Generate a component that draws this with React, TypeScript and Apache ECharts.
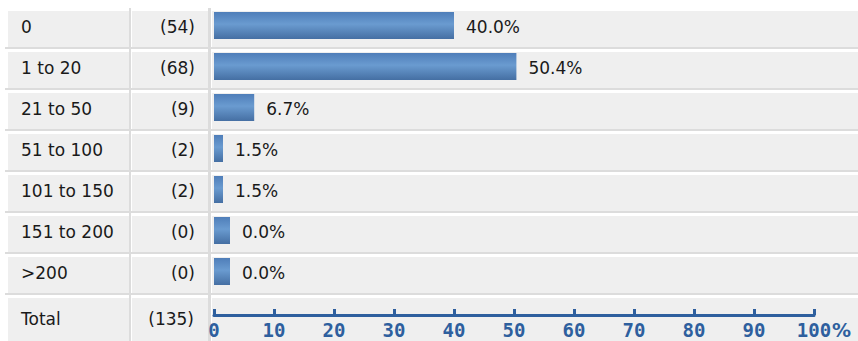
import React, { useEffect, useRef } from "react";
import * as echarts from "echarts";

const categories = ["0", "1 to 20", "21 to 50", "51 to 100", "101 to 150", "151 to 200", ">200"];
const counts = [54, 68, 9, 2, 2, 0, 0];
const percents = [40.0, 50.4, 6.7, 1.5, 1.5, 0.0, 0.0];
const totalLabel = "Total";
const totalCount = 135;

const W = 858;
const H = 341;
const ROW_TOP = 11;
const ROW_PITCH = 41;
const ROW_H = 36;
const GRID_LEFT = 214;
const GRID_W = 600;
const TEXT_FONT = "'DejaVu Sans', Verdana, sans-serif";
const CELL = "#efefef";
const LINE = "#dcdcdc";
const AXIS = "#2e5f9e";

function buildGraphics() {
  const els: any[] = [];
  const nRows = categories.length + 1;
  for (let i = 0; i < nRows; i++) {
    const top = ROW_TOP + ROW_PITCH * i;
    const last = i === nRows - 1;
    const h = last ? H - top : ROW_H;
    els.push({ type: "rect", shape: { x: 8, y: top, width: 121, height: h }, style: { fill: CELL }, silent: true, z: -10 });
    els.push({ type: "rect", shape: { x: 132, y: top, width: 76, height: h }, style: { fill: CELL }, silent: true, z: -10 });
    els.push({ type: "rect", shape: { x: 212, y: top, width: W - 212, height: h }, style: { fill: CELL }, silent: true, z: -10 });
    if (!last) {
      els.push({ type: "rect", shape: { x: 5, y: top + ROW_H, width: W - 5, height: 2 }, style: { fill: LINE }, silent: true, z: -9 });
    }
  }
  els.push({ type: "rect", shape: { x: 129, y: 8, width: 2, height: H - 8 }, style: { fill: LINE }, silent: true, z: -8 });
  els.push({ type: "rect", shape: { x: 208, y: 8, width: 3, height: H - 8 }, style: { fill: LINE }, silent: true, z: -8 });
  const totalTop = ROW_TOP + ROW_PITCH * categories.length;
  els.push({
    type: "text",
    x: 21,
    y: totalTop + 21,
    style: { text: totalLabel, font: `17px ${TEXT_FONT}`, fill: "#1a1a1a", textAlign: "left", textVerticalAlign: "middle" },
    z: 5,
  });
  els.push({
    type: "text",
    x: 194,
    y: totalTop + 21,
    style: { text: `(${totalCount})`, font: `17px ${TEXT_FONT}`, fill: "#1a1a1a", textAlign: "right", textVerticalAlign: "middle" },
    z: 5,
  });
  return els;
}

const barGradient = new echarts.graphic.LinearGradient(0, 0, 0, 1, [
  { offset: 0, color: "#4f7eb9" },
  { offset: 0.45, color: "#6a9bd0" },
  { offset: 1, color: "#456fa3" },
]);

const valueLabel = {
  show: true,
  position: "right",
  distance: 12,
  offset: [0, 1],
  fontSize: 17,
  fontFamily: TEXT_FONT,
  color: "#1a1a1a",
  formatter: (p: any) => `${percents[p.dataIndex].toFixed(1)}%`,
};

export default function App() {
  const ref = useRef<HTMLDivElement>(null);
  useEffect(() => {
    if (!ref.current) return;
    const chart = echarts.init(ref.current, undefined, { renderer: "svg" });
    chart.setOption({
      animation: false,
      backgroundColor: "#ffffff",
      graphic: buildGraphics(),
      grid: {
        left: GRID_LEFT,
        width: GRID_W,
        top: ROW_TOP - 6,
        height: ROW_PITCH * categories.length,
        containLabel: false,
      },
      xAxis: {
        type: "value",
        min: 0,
        max: 100,
        interval: 10,
        offset: 23,
        name: "%",
        nameLocation: "end",
        nameGap: 18,
        nameMoveOverlap: false,
        nameTextStyle: {
          fontSize: 19,
          fontWeight: "bold",
          fontFamily: "'DejaVu Sans', sans-serif",
          color: AXIS,
          verticalAlign: "top",
          padding: [5, 0, 0, 0],
        },
        axisLine: { show: true, lineStyle: { color: AXIS, width: 3 } },
        axisTick: { show: true, inside: true, length: 6, lineStyle: { color: AXIS, width: 3 } },
        axisLabel: {
          margin: 5,
          fontSize: 19,
          fontWeight: "bold",
          fontFamily: "'DejaVu Sans Mono', monospace",
          color: AXIS,
        },
        splitLine: { show: false },
      },
      yAxis: {
        type: "category",
        inverse: true,
        data: categories,
        axisLine: { show: false },
        axisTick: { show: false },
        splitLine: { show: false },
        axisLabel: {
          margin: GRID_LEFT - 195,
          formatter: (value: string, index: number) => `{a|${value}}{b|(${counts[index]})}`,
          rich: {
            a: { width: 110, align: "left", fontSize: 17, fontFamily: TEXT_FONT, color: "#1a1a1a", padding: [2, 0, 0, 0] },
            b: { width: 64, align: "right", fontSize: 17, fontFamily: TEXT_FONT, color: "#1a1a1a", padding: [2, 0, 0, 0] },
          },
        },
      },
      series: [
        {
          type: "bar",
          data: percents.map((v) => (v > 0 ? v : "-")),
          barWidth: 27,
          itemStyle: { color: barGradient },
          label: valueLabel,
        },
        {
          type: "bar",
          data: percents.map((v) => (v === 0 ? v : "-")),
          barWidth: 27,
          barGap: "-100%",
          barMinHeight: 16,
          itemStyle: { color: barGradient },
          label: valueLabel,
        },
      ],
    });
    return () => chart.dispose();
  }, []);
  return <div ref={ref} style={{ position: "fixed", left: 0, top: 0, width: W, height: H }} />;
}
